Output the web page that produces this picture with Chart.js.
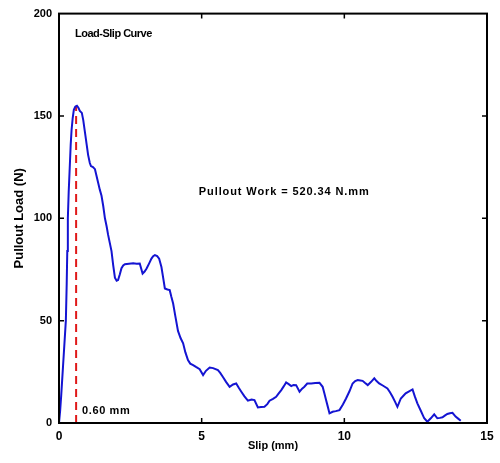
<!DOCTYPE html>
<html>
<head>
<meta charset="utf-8">
<script src="https://cdn.jsdelivr.net/npm/chart.js@4/dist/chart.umd.min.js"></script>
<style>
  html, body { margin: 0; padding: 0; background: #fff; }
  #wrap { width: 500px; height: 463px; position: relative; }
</style>
</head>
<body>
<div id="wrap"><canvas id="chart"></canvas></div>
<script>
// slip (mm) and pullout load (N) of the measured curve
const slipMm = [0, 0.04, 0.08, 0.12, 0.16, 0.2, 0.24, 0.27, 0.29, 0.31, 0.34, 0.38, 0.41, 0.44, 0.48, 0.52, 0.57, 0.63, 0.68, 0.73, 0.8, 0.85, 0.91, 0.97, 1.02, 1.08, 1.12, 1.19, 1.26, 1.31, 1.37, 1.43, 1.49, 1.55, 1.61, 1.67, 1.72, 1.78, 1.84, 1.9, 1.96, 2.02, 2.07, 2.13, 2.19, 2.25, 2.31, 2.45, 2.6, 2.72, 2.83, 2.93, 3.0, 3.07, 3.16, 3.24, 3.3, 3.36, 3.44, 3.51, 3.59, 3.65, 3.71, 3.8, 3.88, 3.94, 4.0, 4.08, 4.17, 4.26, 4.35, 4.43, 4.52, 4.6, 4.7, 4.8, 4.93, 5.05, 5.15, 5.28, 5.4, 5.57, 5.65, 5.74, 5.86, 5.98, 6.1, 6.21, 6.3, 6.39, 6.5, 6.62, 6.75, 6.85, 6.97, 7.08, 7.2, 7.3, 7.38, 7.5, 7.61, 7.7, 7.79, 7.88, 7.96, 8.05, 8.14, 8.22, 8.31, 8.43, 8.52, 8.6, 8.7, 8.84, 8.98, 9.13, 9.24, 9.3, 9.36, 9.42, 9.48, 9.59, 9.7, 9.83, 9.95, 10.06, 10.18, 10.29, 10.38, 10.47, 10.56, 10.64, 10.73, 10.82, 10.93, 11.05, 11.13, 11.22, 11.36, 11.51, 11.6, 11.69, 11.78, 11.86, 11.98, 12.07, 12.15, 12.27, 12.39, 12.47, 12.56, 12.68, 12.8, 12.91, 13.03, 13.15, 13.26, 13.35, 13.44, 13.52, 13.61, 13.7, 13.79, 13.9, 14.0, 14.08];
const loadN = [0, 6, 14, 23, 32, 41, 50, 68, 84, 100, 113, 126, 136, 143, 149, 153, 154.5, 155, 154, 152.5, 151.5, 148, 142, 136, 131, 127, 125.5, 125, 124, 121, 117.5, 114, 111, 106, 100, 96, 92, 88, 84, 77, 71, 69.5, 69.8, 72.5, 75.6, 77, 77.6, 77.8, 78, 77.8, 77.9, 73, 74, 75.5, 78, 80.3, 81.5, 82, 81.5, 80.3, 76.2, 71, 65.7, 65.2, 64.9, 61.5, 58.4, 52, 45, 41.5, 38.9, 34.5, 30.7, 29, 28.3, 27.4, 26.3, 23.4, 25.5, 27.1, 26.8, 25.8, 24.5, 22.6, 20, 17.7, 18.8, 19.3, 17.2, 15.3, 13, 10.9, 11.5, 11.2, 7.6, 7.8, 7.9, 9.2, 10.9, 11.8, 12.8, 14.5, 16.1, 18, 19.8, 19, 18, 18.6, 18.5, 15.3, 16.8, 17.7, 19.3, 19.3, 19.5, 19.6, 17.7, 14.5, 11.2, 8, 4.7, 5.5, 5.8, 6.3, 9, 12, 15.5, 19.3, 20.5, 21, 20.8, 20.6, 19.5, 18.5, 20, 21.8, 20.5, 19.3, 18.2, 16.9, 15, 12.8, 10.3, 7.9, 12, 13.3, 14.5, 15.5, 16.4, 13, 9.6, 6, 2.3, 0.6, 2.3, 4.2, 2.3, 2.5, 2.8, 3.6, 4.4, 4.8, 5.0, 3.1, 2, 1.1];

// slip at peak load and the integrated work
const peakSlip = 0.60;
const peakLoad = 155;
const pulloutWork = 520.34;

const xTicks = [0, 5, 10, 15];
const yTicks = [0, 50, 100, 150, 200];

const FONT = '"Liberation Sans", Arial, sans-serif';

const curve = slipMm.map((x, i) => ({ x: x, y: loadN[i] }));

// box around the plot with small inward tick marks on all sides
const frame = {
  id: 'frame',
  afterDatasetsDraw(chart) {
    const { ctx, chartArea: a, scales } = chart;
    ctx.save();
    ctx.strokeStyle = '#000';
    ctx.lineWidth = 2;
    ctx.strokeRect(a.left, a.top, a.right - a.left, a.bottom - a.top);
    ctx.lineWidth = 1.5;
    ctx.beginPath();
    xTicks.slice(1, -1).forEach(v => {
      const px = scales.x.getPixelForValue(v);
      ctx.moveTo(px, a.bottom); ctx.lineTo(px, a.bottom - 5);
      ctx.moveTo(px, a.top); ctx.lineTo(px, a.top + 5);
    });
    yTicks.slice(1, -1).forEach(v => {
      const py = scales.y.getPixelForValue(v);
      ctx.moveTo(a.left, py); ctx.lineTo(a.left + 5, py);
      ctx.moveTo(a.right, py); ctx.lineTo(a.right - 5, py);
    });
    ctx.stroke();

    // text notes inside the plot
    ctx.fillStyle = '#000';
    ctx.textBaseline = 'middle';
    ctx.textAlign = 'left';
    ctx.font = 'bold 11px ' + FONT;
    ctx.letterSpacing = '-0.5px';
    ctx.fillText('Load-Slip Curve', a.left + 16, a.top + 20);
    ctx.letterSpacing = '0.9px';
    ctx.fillText('Pullout Work = ' + pulloutWork.toFixed(2) + ' N.mm',
      scales.x.getPixelForValue(4.9), scales.y.getPixelForValue(113));
    ctx.letterSpacing = '0.6px';
    ctx.fillText(peakSlip.toFixed(2) + ' mm',
      scales.x.getPixelForValue(peakSlip) + 6, scales.y.getPixelForValue(6));
    ctx.restore();
  }
};

new Chart(document.getElementById('chart'), {
  type: 'scatter',
  data: {
    datasets: [
      {
        data: curve,
        showLine: true,
        borderColor: '#1414d2',
        borderWidth: 2,
        pointRadius: 0,
        tension: 0
      },
      {
        data: [{ x: peakSlip, y: 0 }, { x: peakSlip, y: peakLoad }],
        showLine: true,
        borderColor: '#e01818',
        borderWidth: 2,
        borderDash: [8, 5],
        pointRadius: 0
      }
    ]
  },
  options: {
    responsive: true,
    maintainAspectRatio: false,
    animation: false,
    layout: { padding: { top: 13, right: 13, left: 0, bottom: 0 } },
    plugins: {
      legend: { display: false },
      tooltip: { enabled: false }
    },
    scales: {
      x: {
        type: 'linear',
        min: 0,
        max: 15,
        afterBuildTicks: s => { s.ticks = xTicks.map(v => ({ value: v })); },
        afterFit: s => { s.height = 40; },
        grid: { display: false, drawTicks: false },
        border: { display: false },
        ticks: { color: '#000', padding: 6, font: { family: FONT, size: 12, weight: 'bold' } },
        title: {
          display: true,
          text: 'Slip (mm)',
          color: '#000',
          padding: { top: 0, bottom: 10 },
          font: { family: FONT, size: 11, weight: 'bold' }
        }
      },
      y: {
        min: 0,
        max: 200,
        afterBuildTicks: s => { s.ticks = yTicks.map(v => ({ value: v })); },
        afterFit: s => { s.width = 59; },
        grid: { display: false, drawTicks: false },
        border: { display: false },
        ticks: { color: '#000', padding: 7, font: { family: FONT, size: 11, weight: 'bold' } },
        title: {
          display: true,
          text: 'Pullout Load (N)',
          color: '#000',
          padding: { top: 12, bottom: 4 },
          font: { family: FONT, size: 13, weight: 'bold' }
        }
      }
    }
  },
  plugins: [frame]
});
</script>
</body>
</html>
